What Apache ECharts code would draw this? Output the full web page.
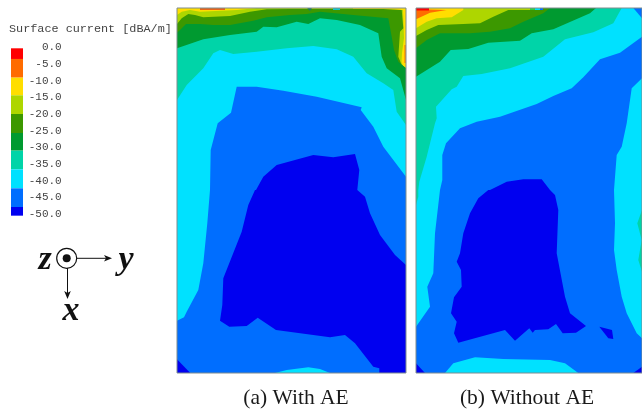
<!DOCTYPE html>
<html>
<head>
<meta charset="utf-8">
<style>html,body{margin:0;padding:0;background:#fff;overflow:hidden}#c{width:642px;height:414px}</style>
<script src="https://cdn.jsdelivr.net/npm/echarts@6/dist/echarts.min.js"></script>
</head>
<body>
<div id="c"></div>
<script>
// colour levels
const legendTicks = [0,-5,-10,-15,-20,-25,-30,-35,-40,-45,-50];
const legendStops = [-0.3,-3.5,-9.1,-14.4,-20,-25.7,-31,-36.6,-42.3,-47.9,-50.5];
const RED='#ff0000',ORG='#ff6c00',YEL='#ffde00',YGR='#aed600',GRN='#3c9800',DGR='#009a30',TEA='#00d4a8',CYA='#00e1ff',BLU='#006eff',DBL='#0000f0';
const legendColors = [RED,ORG,YEL,YGR,GRN,DGR,TEA,CYA,BLU,DBL];

// Panel (a) contour regions
const aFull=[[0,0],[229,0],[229,365],[0,365]];
const aOrange=[[23,0],[48,0],[48,2],[23,2]];
const aM20=[[0,7],[4.7,3.7],[13,2],[23,3.7],[60,2],[80,0],[176,0],[176,1],[226,2],[227,30],[225,45],[224.5,54],[226,58],[229,60],[229,365],[0,365]];
const aStreak=[[227.5,37],[228.7,37],[228.7,55],[227.5,55]];
const aM25=[[0,16],[4.7,10.3],[11.3,6],[18,7],[26.3,9.3],[53,8],[73,3.7],[89.7,1.3],[113,1],[206.3,1],[224.7,2],[226.3,20.3],[223,23.7],[221.3,48.7],[224.7,57],[229,60.3],[229,365],[0,365]];
const aM30=[[0,24.7],[3,22],[9,16],[23,16],[36.3,17],[53,17],[76.3,12.7],[89.7,9.3],[113,7],[129.7,6],[143,3.7],[176.3,7],[211.3,10.3],[214.7,28.7],[217,42],[221.3,53.7],[229,60.3],[229,365],[0,365]];
const aM35=[[0,40.3],[26.3,31.3],[53,27],[79.7,23.7],[86.3,18.7],[99.7,19.3],[119.7,13.7],[131.3,16],[143,10.3],[159.7,12],[183,17],[201.3,25.3],[204.7,48.7],[209.7,60.3],[223,70.3],[229,92],[229,365],[0,365]];
const aM40=[[0,92],[9.7,77],[26.3,60.3],[36.3,45.3],[43,42],[56.3,46],[79.7,43.7],[109.7,40.3],[136.3,38],[159.7,41.3],[176.3,48.7],[189.7,65.3],[206.3,75.3],[216.3,82],[219.7,103.7],[229,117],[229,365],[0,365]];
const aM45=[[59.7,78.7],[79.7,78.7],[106.3,82.7],[139.7,88.7],[184.7,99.3],[183.7,102],[196.3,118.7],[206.3,138.7],[229,168.7],[229,365],[0,365],[0,312.7],[7,309.3],[9.7,303.7],[21.3,282],[26.3,255.3],[30.3,215.3],[33,182],[33.7,142],[40.7,115.3],[54,104.7]];
const aBottomCyan=[[98,365],[109.7,362],[131.3,359.3],[143,361],[153,365]];
const aM50=[[79,182],[86.3,168.7],[99.7,157],[136.3,147],[156.3,149.3],[178,146],[182.3,162],[180.3,182],[182.3,183.7],[188,188.7],[193,205.3],[203,227],[218,247],[229,257],[229,365],[202.3,365],[202.3,360.3],[196.3,358.7],[178,335.3],[168,327],[153,329.3],[99,322],[80.7,309.7],[69.7,318],[52.3,318.7],[43,312.7],[45.3,297],[46.3,270.3],[64.7,223.7],[71.3,197],[78,182]];
const aCorner=[[0,351.3],[13.3,365],[0,365]];
const aTopCyan=[[156,0],[163,0],[163,2],[156,2]];
const aTopTeal=[[130,0],[135,0],[133,3]];
const panelA=[[aFull,YEL],[aOrange,'#e8641a'],[aM20,YGR],[aStreak,ORG],[aM25,GRN],[aM30,DGR],[aM35,TEA],[aM40,CYA],[aM45,BLU],[aBottomCyan,CYA],[aM50,DBL],[aCorner,DBL],[aTopCyan,'#10c8c8'],[aTopTeal,'#1a7a60']];

// Panel (b) contour regions
const bFull=[[0,0],[226,0],[226,365],[0,365]];
const bM15=[[0,11.3],[14,4.7],[30.7,2],[13,1.5],[13,0],[226,0],[226,365],[0,365]];
const bRed=[[0,0],[13,0],[13,2.5],[0,2.5]];
const bM20=[[0,20.3],[10.7,13.7],[20.7,10.3],[35.7,9.3],[47.3,2],[47.3,0],[226,0],[226,365],[0,365]];
const bM25=[[0,28],[10.7,22],[22.3,17],[47.3,16],[64,15.3],[77.3,8.7],[92.3,2],[114,2],[114,0],[226,0],[226,365],[0,365]];
const bTopA=[[114,0],[119,0],[119,2],[114,2]];
const bTopB=[[119,0],[124,0],[124,2],[119,2]];
const bTopC=[[124,0],[127,0],[127,2],[124,2]];
const bM30=[[0,40.3],[10.7,32],[24,25.3],[54,25.3],[74,23.7],[94,20.3],[107.3,13.7],[127.3,5.3],[134,0],[226,0],[226,365],[0,365]];
const bM35=[[0,68.7],[24,53.7],[34.7,42],[52.3,41],[72.3,34.7],[104,32.7],[115.7,25.3],[137.3,21.3],[174,5.3],[180,0],[226,0],[226,365],[0,365]];
const bM40=[[0,197],[2.3,188.7],[2.3,182],[3.3,173.7],[10.7,148.7],[19,115.3],[20.7,110.3],[20,98.7],[35.7,81.3],[40.7,78.7],[47.3,68],[65.7,66],[94,60.3],[127.3,48.7],[149,31.3],[177.3,24.3],[197.3,15.3],[205.7,0],[226,0],[226,365],[0,365]];
const bRightTeal=[[226,202],[221.3,215.3],[225.7,232],[222.3,252],[226,263.7]];
const bM45=[[30,135.3],[44,120.3],[60.7,113.7],[84,108.7],[120.7,96],[137.3,88],[155.7,80.3],[167.3,69.3],[184,51.3],[204,44.7],[226,28.7],[226,70.3],[215.7,80.3],[210.7,115.3],[205.7,138.7],[200.7,147],[198,182],[199,215.3],[198,242],[200.7,262],[205.7,288.7],[210.7,305.3],[220.7,325.3],[226,330.3],[226,365],[0,365],[0,318.7],[14,298.7],[11.3,278.7],[17.3,265.3],[19,225.3],[24,182],[26.3,172],[26.3,147]];
const bTopBlue=[[217.3,0],[226,10.3],[226,0]];
const bBottomCyan=[[29,365],[37.3,355.3],[59,349.3],[87.3,351],[134,352],[149,355.3],[162.3,365]];
const bM50=[[74,182],[90.7,173.7],[107.3,171.3],[125.7,171.3],[134,182],[139,187],[142.3,202],[140.7,245.3],[149,288.7],[154,305.3],[170,318],[160,324.7],[146.7,325.3],[140,316],[132.3,321.3],[119,322],[116.7,324.7],[113.3,320.3],[99,332.7],[89,322],[42.3,334.7],[38,325.3],[40.7,313.7],[35,305.3],[38,289.3],[45.7,278.7],[45,262],[40.7,253.7],[44,245.3],[47.3,225.3],[54,205.3],[62.3,190.3],[72.3,182]];
const bIsland=[[183.3,318.7],[196,322],[197.3,331],[192.3,330.3]];
const bCornerL=[[0,355.3],[9,365],[0,365]];
const bCornerR=[[217.3,365],[226,358.7],[226,365]];
const panelB=[[bFull,ORG],[bM15,YEL],[bRed,RED],[bM20,YGR],[bM25,GRN],[bTopA,'#30d040'],[bTopB,CYA],[bTopC,BLU],[bM30,DGR],[bM35,TEA],[bM40,CYA],[bRightTeal,TEA],[bM45,BLU],[bTopBlue,BLU],[bBottomCyan,CYA],[bM50,DBL],[bIsland,DBL],[bCornerL,DBL],[bCornerR,DBL]];

const FRAME='#7f8c8e';
function contourSeries(layers, frame, gi){
  return [{
    type:'custom',coordinateSystem:'cartesian2d',xAxisIndex:gi,yAxisIndex:gi,silent:true,clip:true,animation:false,
    data:layers.map((l,i)=>[i]),
    encode:{x:[],y:[]},
    renderItem(params,api){
      const l=layers[params.dataIndex];
      return {type:'polygon',shape:{points:l[0].map(p=>api.coord(p))},style:{fill:l[1]}};
    }
  },{
    type:'custom',coordinateSystem:'cartesian2d',xAxisIndex:gi,yAxisIndex:gi,silent:true,clip:false,animation:false,z:5,
    data:[[0]],encode:{x:[],y:[]},
    renderItem(params,api){
      return {type:'polygon',shape:{points:frame.map(p=>api.coord(p))},style:{fill:'none',stroke:FRAME,lineWidth:1}};
    }
  }];
}
const hiddenX=(g,max)=>({gridIndex:g,type:'value',min:0,max:max,show:false});
const hiddenY=(g,max)=>({gridIndex:g,type:'value',min:0,max:max,inverse:true,show:false});

const serif='"Liberation Serif"';
const mono='"Liberation Mono"';
const chart=echarts.init(document.getElementById('c'),null,{renderer:'canvas'});
chart.setOption({
  animation:false,
  backgroundColor:'#fff',
  grid:[
    {left:177,top:8,width:229,height:365},
    {left:416,top:8,width:226,height:365},
    {left:11,top:47.3,width:12,height:166.7}
  ],
  xAxis:[hiddenX(0,229),hiddenX(1,226),{gridIndex:2,type:'value',min:0,max:1,show:false}],
  yAxis:[hiddenY(0,365),hiddenY(1,365),{
    gridIndex:2,type:'value',min:-50,max:0,interval:5,position:'right',
    axisLine:{show:false},axisTick:{show:false},splitLine:{show:false},
    axisLabel:{margin:38.7,align:'right',fontFamily:mono,fontSize:11,color:'#444',formatter:v=>v.toFixed(1)}
  }],
  series:[
    ...contourSeries(panelA,aFull,0),
    ...contourSeries(panelB,bFull,1),
    {
      type:'custom',coordinateSystem:'cartesian2d',xAxisIndex:2,yAxisIndex:2,silent:true,clip:false,animation:false,
      data:legendColors.map((c,i)=>[0,legendStops[i],1,legendStops[i+1]]),
      encode:{x:[0,2],y:[1,3]},
      renderItem(params,api){
        const p=api.coord([api.value(0),api.value(1)]),q=api.coord([api.value(2),api.value(3)]);
        return {type:'rect',shape:{x:p[0],y:p[1],width:q[0]-p[0],height:q[1]-p[1]},style:{fill:legendColors[params.dataIndex]}};
      }
    }
  ],
  graphic:[
    {type:'text',style:{x:296,y:398,text:'(a) With AE',align:'center',verticalAlign:'middle',font:'21.5px '+serif,fill:'#1a1a1a'}},
    {type:'text',style:{x:527,y:398,text:'(b) Without AE',align:'center',verticalAlign:'middle',font:'21.5px '+serif,fill:'#1a1a1a'}},
    {type:'text',style:{x:9,y:29,text:'Surface current [dBA/m]',align:'left',verticalAlign:'middle',font:'11.8px '+mono,fill:'#444'}},
    {type:'circle',shape:{cx:66.7,cy:258.3,r:10},style:{fill:'#fff',stroke:'#111',lineWidth:1.2}},
    {type:'circle',shape:{cx:66.7,cy:258.3,r:4},style:{fill:'#111'}},
    {type:'line',shape:{x1:77,y1:258.3,x2:108,y2:258.3},style:{stroke:'#111',lineWidth:1}},
    {type:'polygon',shape:{points:[[112,258.3],[104,255],[106,258.3],[104,261.6]]},style:{fill:'#111'}},
    {type:'line',shape:{x1:67.5,y1:268,x2:67.5,y2:295},style:{stroke:'#111',lineWidth:1}},
    {type:'polygon',shape:{points:[[67.5,299],[64.2,291],[67.5,293],[70.8,291]]},style:{fill:'#111'}},
    {type:'text',style:{x:45,y:260,text:'z',align:'center',verticalAlign:'middle',font:'italic bold 34px '+serif,fill:'#111'}},
    {type:'text',style:{x:126,y:260,text:'y',align:'center',verticalAlign:'middle',font:'italic bold 34px '+serif,fill:'#111'}},
    {type:'text',style:{x:71,y:311,text:'x',align:'center',verticalAlign:'middle',font:'italic bold 34px '+serif,fill:'#111'}}
  ]
});
</script>
</body>
</html>
